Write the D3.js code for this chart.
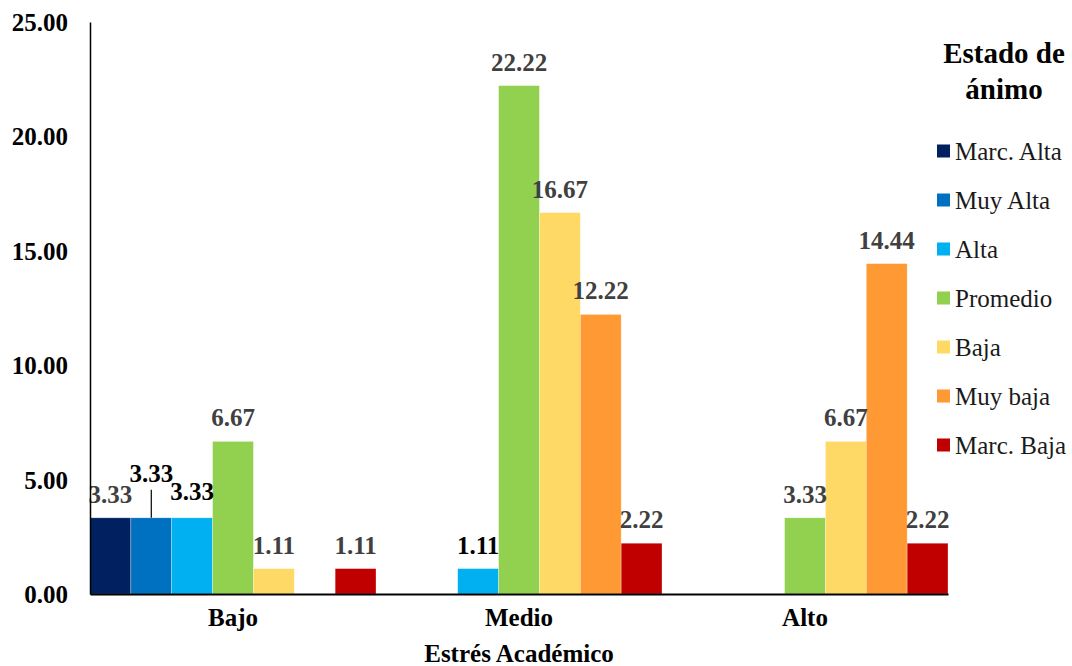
<!DOCTYPE html>
<html lang="es">
<head>
<meta charset="utf-8">
<script src="https://cdn.jsdelivr.net/npm/d3@7/dist/d3.min.js"></script>
<style>
  html, body { margin: 0; padding: 0; background: #fff; }
  svg { display: block; font-family: "Liberation Serif", "Times New Roman", serif; }
</style>
</head>
<body>
<svg id="chart" width="1072" height="666"></svg>
<script>
// Estrés académico (categorías) vs. estado de ánimo (series), porcentajes
const categories = ["Bajo", "Medio", "Alto"];
const seriesNames = ["Marc. Alta", "Muy Alta", "Alta", "Promedio", "Baja", "Muy baja", "Marc. Baja"];
const seriesColors = ["#002060", "#0070C0", "#00B0F0", "#92D050", "#FFD966", "#FF9933", "#C00000"];
const valuesMarcAlta  = [3.33, 0, 0];
const valuesMuyAlta   = [3.33, 0, 0];
const valuesAlta      = [3.33, 1.11, 0];
const valuesPromedio  = [6.67, 22.22, 3.33];
const valuesBaja      = [1.11, 16.67, 6.67];
const valuesMuyBaja   = [0, 12.22, 14.44];
const valuesMarcBaja  = [1.11, 2.22, 2.22];
const yTicks = [0, 5, 10, 15, 20, 25];
const axisTitle = "Estrés Académico";
const legendTitle = ["Estado de", "ánimo"];

const seriesValues = [valuesMarcAlta, valuesMuyAlta, valuesAlta, valuesPromedio, valuesBaja, valuesMuyBaja, valuesMarcBaja];

const FONT = "Liberation Serif, Times New Roman, serif";
const svg = d3.select("#chart");
const plot = { left: 90, right: 948, top: 22, bottom: 594 };

const x0 = d3.scaleBand().domain(categories).range([plot.left, plot.right]).padding(0);
const x1 = d3.scaleBand().domain(seriesNames).range([0, x0.bandwidth()]).padding(0);
const y = d3.scaleLinear().domain([0, 25]).range([plot.bottom, plot.top]);

// Bars
const groups = svg.append("g").selectAll("g")
  .data(categories)
  .join("g")
  .attr("transform", c => `translate(${x0(c)},0)`);

groups.selectAll("rect")
  .data((c, ci) => seriesNames.map((s, si) => ({ cat: c, ci, s, si, v: seriesValues[si][ci] })))
  .join("rect")
  .attr("x", d => x1(d.s))
  .attr("y", d => y(d.v))
  .attr("width", x1.bandwidth())
  .attr("height", d => y(0) - y(d.v))
  .attr("fill", d => seriesColors[d.si])
  .attr("stroke", "#ffffff")
  .attr("stroke-opacity", 0.5)
  .attr("stroke-width", 0.6);

// Value labels (zero values are not labelled)
const labelData = [];
categories.forEach((c, ci) => {
  seriesNames.forEach((s, si) => {
    const v = seriesValues[si][ci];
    if (v > 0) labelData.push({ c, ci, s, si, v });
  });
});
// labels that were moved by hand are drawn in black
const isMoved = d => (d.ci === 0 && (d.si === 1 || d.si === 2)) || (d.ci === 1 && d.si === 2);
const liftFor = d => (d.ci === 0 && d.si === 1) ? 21 : (d.ci === 0 && d.si === 2) ? 3 : 0;

svg.append("g").selectAll("text")
  .data(labelData)
  .join("text")
  .attr("x", d => x0(d.c) + x1(d.s) + x1.bandwidth() / 2)
  .attr("y", d => y(d.v) - 15 - liftFor(d))
  .attr("text-anchor", "middle")
  .attr("font-size", 25)
  .attr("font-weight", "bold")
  .attr("fill", d => isMoved(d) ? "#000000" : "#404040")
  .text(d => d.v.toFixed(2));

// Leader line for the lifted label
labelData.filter(d => d.ci === 0 && d.si === 1).forEach(d => {
  const cx = x0(d.c) + x1(d.s) + x1.bandwidth() / 2;
  svg.append("line")
    .attr("x1", cx).attr("x2", cx)
    .attr("y1", y(d.v) - 28).attr("y2", y(d.v))
    .attr("stroke", "#000").attr("stroke-width", 1.2);
});

// Y axis
const yAxis = svg.append("g")
  .attr("transform", `translate(${plot.left},0)`)
  .call(d3.axisLeft(y).tickValues(yTicks).tickSize(0).tickPadding(22).tickFormat(d => d.toFixed(2)));
yAxis.select(".domain").attr("stroke", "#000").attr("stroke-width", 1.5);
yAxis.selectAll("text")
  .attr("font-family", FONT)
  .attr("font-size", 25).attr("font-weight", "bold").attr("fill", "#000")
  .attr("dy", "0.34em");

// X axis
const xAxis = svg.append("g")
  .attr("transform", `translate(0,${plot.bottom})`)
  .call(d3.axisBottom(x0).tickSize(0).tickPadding(14));
xAxis.select(".domain").attr("stroke", "#000").attr("stroke-width", 2.2);
xAxis.selectAll("text")
  .attr("font-family", FONT)
  .attr("font-size", 25).attr("font-weight", "bold").attr("fill", "#000");

// Axis title
svg.append("text")
  .attr("x", (plot.left + plot.right) / 2)
  .attr("y", 662)
  .attr("text-anchor", "middle")
  .attr("font-size", 25).attr("font-weight", "bold").attr("fill", "#000")
  .text(axisTitle);

// Legend
const legend = svg.append("g");
legend.selectAll("text.title")
  .data(legendTitle)
  .join("text")
  .attr("class", "title")
  .attr("x", 1004)
  .attr("y", (d, i) => 63 + i * 36)
  .attr("text-anchor", "middle")
  .attr("font-size", 29).attr("font-weight", "bold").attr("fill", "#000")
  .text(d => d);

const items = legend.selectAll("g.item")
  .data(seriesNames)
  .join("g")
  .attr("class", "item")
  .attr("transform", (d, i) => `translate(937,${151 + i * 49})`);
items.append("rect")
  .attr("x", 0).attr("y", -6.5)
  .attr("width", 13).attr("height", 13)
  .attr("fill", (d, i) => seriesColors[i]);
items.append("text")
  .attr("x", 18).attr("y", 0)
  .attr("dy", "0.34em")
  .attr("font-size", 25).attr("fill", "#1a1a1a")
  .text(d => d);
</script>
</body>
</html>
